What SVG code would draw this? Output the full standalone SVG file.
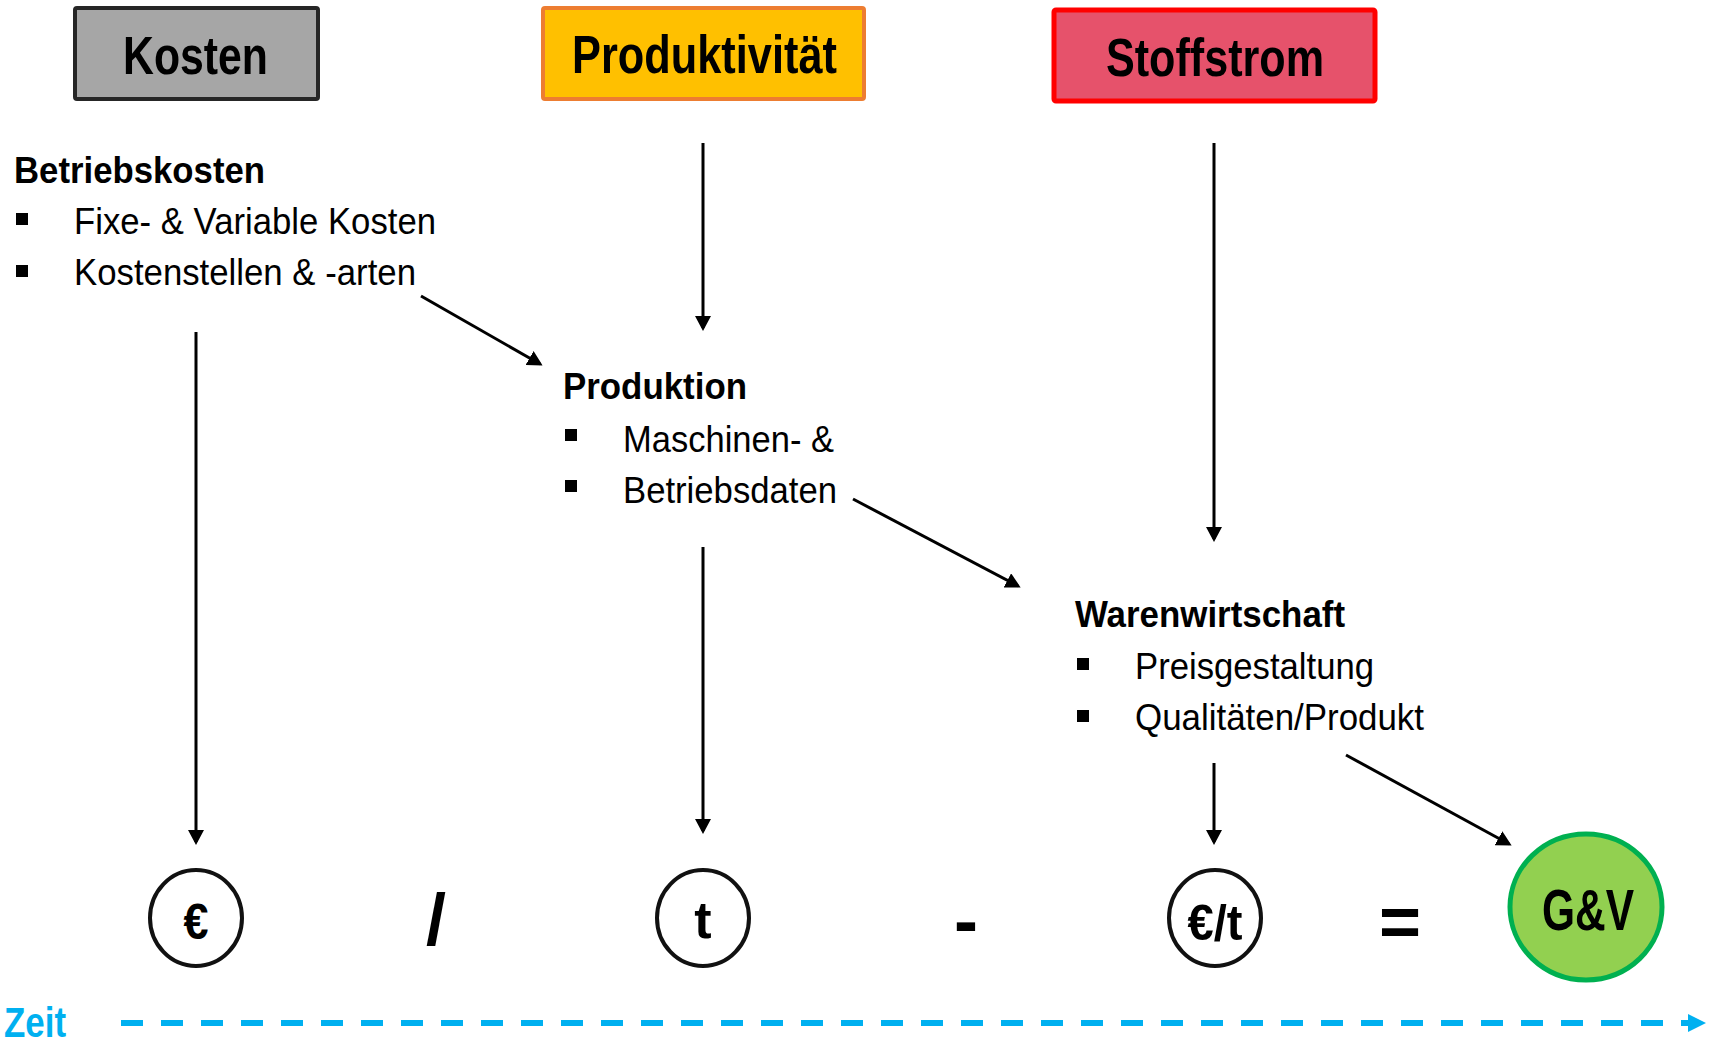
<svg xmlns="http://www.w3.org/2000/svg" width="1725" height="1043" viewBox="0 0 1725 1043">
<style>
  text { font-family: "Liberation Sans", Arial, sans-serif; fill: #000; }
  .title { font-size: 54px; font-weight: bold; }
  .head { font-size: 36px; font-weight: bold; }
  .item { font-size: 37px; }
  .sym { font-weight: bold; text-anchor: middle; }
  .op { font-size: 72px; font-weight: bold; text-anchor: middle; }
  .conn { stroke: #000; stroke-width: 3; fill: none; marker-end: url(#arr); }
  .ring { fill: #fff; stroke: #111; stroke-width: 4; }
  .bullet { fill: #000; }
</style>
<defs>
  <marker id="arr" markerUnits="userSpaceOnUse" markerWidth="16" markerHeight="16" refX="12" refY="8" orient="auto">
    <path d="M0,0 L15,8 L0,16 z" fill="#000"/>
  </marker>
  <marker id="arrBlue" markerUnits="userSpaceOnUse" markerWidth="20" markerHeight="18" refX="2" refY="9" orient="auto">
    <path d="M0,0 L18,9 L0,18 z" fill="#00b0f0"/>
  </marker>
</defs>
<rect width="1725" height="1043" fill="#fff"/>

<g id="kosten">
  <rect x="75" y="8" width="243" height="91" rx="2" fill="#a6a6a6" stroke="#262626" stroke-width="4"/>
  <text class="title" x="123" y="74" textLength="145" lengthAdjust="spacingAndGlyphs">Kosten</text>
</g>
<g id="produktivitaet">
  <rect x="543" y="8" width="321" height="91" rx="2" fill="#ffc000" stroke="#ed7d31" stroke-width="4"/>
  <text class="title" x="572" y="73" textLength="265" lengthAdjust="spacingAndGlyphs">Produktivität</text>
</g>
<g id="stoffstrom">
  <rect x="1054" y="10" width="321" height="91" rx="2" fill="#e6526b" stroke="#ff0000" stroke-width="5"/>
  <text class="title" x="1106" y="76" textLength="218" lengthAdjust="spacingAndGlyphs">Stoffstrom</text>
</g>

<g id="betriebskosten">
  <text class="head" x="14" y="183" textLength="251" lengthAdjust="spacingAndGlyphs">Betriebskosten</text>
  <rect class="bullet" x="16" y="213" width="12" height="12"/>
  <text class="item" x="74" y="234" textLength="362" lengthAdjust="spacingAndGlyphs">Fixe- &amp; Variable Kosten</text>
  <rect class="bullet" x="16" y="265" width="12" height="12"/>
  <text class="item" x="74" y="285" textLength="342" lengthAdjust="spacingAndGlyphs">Kostenstellen &amp; -arten</text>
</g>

<g id="produktion">
  <text class="head" x="563" y="399" textLength="184" lengthAdjust="spacingAndGlyphs">Produktion</text>
  <rect class="bullet" x="565" y="429" width="12" height="12"/>
  <text class="item" x="623" y="452" textLength="211" lengthAdjust="spacingAndGlyphs">Maschinen- &amp;</text>
  <rect class="bullet" x="565" y="480" width="12" height="12"/>
  <text class="item" x="623" y="503" textLength="214" lengthAdjust="spacingAndGlyphs">Betriebsdaten</text>
</g>

<g id="warenwirtschaft">
  <text class="head" x="1075" y="627" textLength="270" lengthAdjust="spacingAndGlyphs">Warenwirtschaft</text>
  <rect class="bullet" x="1077" y="658" width="12" height="12"/>
  <text class="item" x="1135" y="679" textLength="239" lengthAdjust="spacingAndGlyphs">Preisgestaltung</text>
  <rect class="bullet" x="1077" y="710" width="12" height="12"/>
  <text class="item" x="1135" y="730" textLength="289" lengthAdjust="spacingAndGlyphs">Qualitäten/Produkt</text>
</g>

<g id="euro">
  <ellipse class="ring" cx="196" cy="918" rx="46" ry="48"/>
  <text class="sym" x="196" y="939" font-size="50" textLength="25" lengthAdjust="spacingAndGlyphs">€</text>
</g>
<g id="tonne">
  <ellipse class="ring" cx="703" cy="918" rx="46" ry="48"/>
  <text class="sym" x="703" y="938" font-size="52">t</text>
</g>
<g id="euro-pro-tonne">
  <ellipse class="ring" cx="1215" cy="918" rx="46" ry="48"/>
  <text class="sym" x="1215" y="940" font-size="50" textLength="55" lengthAdjust="spacingAndGlyphs">€/t</text>
</g>
<g id="guv">
  <ellipse cx="1586" cy="907" rx="76" ry="73" fill="#92d050" stroke="#00b050" stroke-width="5"/>
  <text class="sym" x="1588" y="930" font-size="57" textLength="92" lengthAdjust="spacingAndGlyphs">G&amp;V</text>
</g>

<g id="operators">
  <text class="op" x="436" y="945">/</text>
  <text class="op" x="966" y="945">-</text>
  <text class="op" x="1400" y="946">=</text>
</g>

<g id="zeit">
  <text x="4" y="1037" font-size="42" font-weight="bold" style="fill:#00b0f0" textLength="62" lengthAdjust="spacingAndGlyphs">Zeit</text>
</g>

<g id="connectors">
  <line class="conn" x1="421" y1="296" x2="540" y2="364"/>
  <line class="conn" x1="196" y1="332" x2="196" y2="842"/>
  <line class="conn" x1="703" y1="143" x2="703" y2="328"/>
  <line class="conn" x1="1214" y1="143" x2="1214" y2="539"/>
  <line class="conn" x1="853" y1="499" x2="1018" y2="586"/>
  <line class="conn" x1="703" y1="547" x2="703" y2="831"/>
  <line class="conn" x1="1214" y1="763" x2="1214" y2="842"/>
  <line class="conn" x1="1346" y1="755" x2="1509" y2="844"/>
  <line x1="121" y1="1023" x2="1690" y2="1023" stroke="#00b0f0" stroke-width="6" stroke-dasharray="22 18" marker-end="url(#arrBlue)"/>
</g>
</svg>
